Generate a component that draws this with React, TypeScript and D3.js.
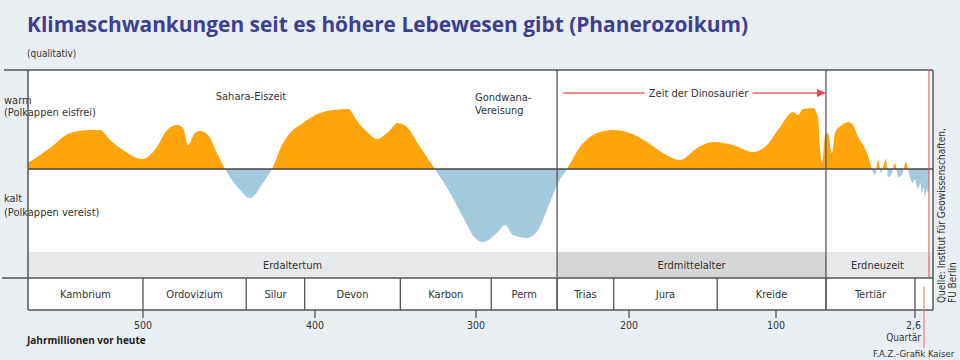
import React from "react";
import * as d3 from "d3";

// ages in million years (Ma) and where the drawn axis puts them (the axis is slightly compressed toward today)
const axisAges = [570, 500, 400, 300, 200, 100, 2.6, 0];
const axisX = [28, 143, 315, 476, 629, 776, 915, 929];

const tickValues = [500, 400, 300, 200, 100, 2.6];
const tickLabels = ["500", "400", "300", "200", "100", "2,6"];

const periodNames = ["Kambrium", "Ordovizium", "Silur", "Devon", "Karbon", "Perm", "Trias", "Jura", "Kreide", "Tertiär", ""];
const periodBounds = [570, 500, 440, 406, 347, 290, 247, 210, 140, 65, 2.6, 0];

const eraNames = ["Erdaltertum", "Erdmittelalter", "Erdneuzeit"];
const eraBounds = [570, 247, 65, 0];

// qualitative climate: + warm (ice-free poles), - cold (glaciated poles)
const climateAge = [
  570, 556.6, 544.4, 532.3, 526.2, 520.1, 512.2, 500.6, 491.9, 486, 480.2, 476.7, 473.8, 469.8, 466.9, 462.2, 457,
  452.3, 443.6, 437.8, 430.2, 425, 418.6, 412.8, 408.7, 396.9, 388.8, 379.5, 373.3, 367.7, 361.5, 355.3, 348.4,
  342.9, 334.8, 325.5, 316.1, 308.1, 300.6, 295.4, 286.3, 281, 275.8, 266.7, 259.5, 252.9, 246.4, 240.5, 232,
  220.9, 210.5, 199.3, 187.8, 176.9, 165.3, 153.7, 142.9, 129.3, 115.6, 106.1, 97.2, 88.1, 84.6, 81.1, 74.1, 70.6,
  69.2, 67.8, 65.7, 63.6, 60.8, 58.7, 53.7, 49.5, 46, 42.5, 39, 36.2, 32.7, 30.6, 28.5, 26.4, 25, 22.9, 21.5, 18.7,
  16.6, 14.5, 11.7, 8.9, 7.5, 4, 3, 2.04, 1.6, 1.3, 1.0, 0.74, 0.4, 0.18, 0,
];
const climateValue = [
  0.06, 0.21, 0.36, 0.39, 0.39, 0.29, 0.19, 0.1, 0.22, 0.39, 0.44, 0.41, 0.24, 0.36, 0.38, 0.34, 0.16,
  0, -0.21, -0.29, -0.14, 0, 0.26, 0.39, 0.44, 0.56, 0.59, 0.6, 0.47, 0.37, 0.3, 0.36, 0.46,
  0.42, 0.22, 0, -0.24, -0.48, -0.69, -0.73, -0.64, -0.56, -0.66, -0.69, -0.61, -0.38, -0.14, 0, 0.22,
  0.36, 0.39, 0.36, 0.27, 0.16, 0.09, 0.21, 0.27, 0.24, 0.17, 0.24, 0.42, 0.57, 0.54, 0.6, 0.61, 0.52,
  0.22, 0.06, 0.32, 0.36, 0.16, 0.36, 0.44, 0.47, 0.44, 0.32, 0.24, 0.16, 0, -0.06, 0.09, -0.04, 0.02, 0.1, -0.08, -0.04,
  0.06, -0.08, -0.06, 0.07, -0.01, -0.14, -0.1, -0.2, -0.14, -0.24, -0.18, -0.28, -0.2, -0.25, -0.18,
];

const condensed = "'Liberation Sans Narrow', 'DejaVu Sans Condensed', 'Roboto', sans-serif";
const lineColor = "#555";

export default function App() {
  const width = 960;
  const height = 360;
  const left = 28;
  const right = 933;
  const top = 70;
  const bandTop = 252;
  const periodTop = 278;
  const periodBottom = 310;

  const x = d3.scaleLinear().domain(axisAges).range(axisX);
  const y = d3.scaleLinear().domain([-1, 1]).range([269, 69]);
  const y0 = y(0);

  const points: [number, number][] = climateAge.map((a, i) => [a, climateValue[i]]);
  const area = d3
    .area<[number, number]>()
    .x((d) => x(d[0]))
    .y0(y0)
    .y1((d) => y(d[1]))
    .curve(d3.curveMonotoneX);
  const areaPath = area(points) || "";

  const dinoStart = x(247);
  const dinoEnd = x(65);
  const dinoMid = (dinoStart + dinoEnd) / 2 + 7;

  return (
    <svg
      width={width}
      height={height}
      style={{ position: "absolute", left: 0, top: 0, display: "block" }}
    >
      <rect width={width} height={height} fill="#e9eef2" />
      <defs>
        <clipPath id="warm">
          <rect x={left} y={top} width={right - left} height={y0 - top} />
        </clipPath>
        <clipPath id="cold">
          <rect x={left} y={y0} width={right - left} height={bandTop - y0} />
        </clipPath>
      </defs>

      {/* title */}
      <text
        x={27}
        y={32}
        fill="#3e3f8e"
        fontFamily="'Open Sans', sans-serif"
        fontWeight="bold"
        fontSize={21}
        textLength={721}
        lengthAdjust="spacingAndGlyphs"
      >
        Klimaschwankungen seit es höhere Lebewesen gibt (Phanerozoikum)
      </text>
      <text x={27} y={57} fontFamily={condensed} fontSize={10} fill="#333">
        (qualitativ)
      </text>

      {/* plot area */}
      <rect x={left} y={top} width={right - left} height={bandTop - top} fill="#fff" />

      {/* side labels */}
      <g fontFamily={condensed} fontSize={11} fill="#333">
        <text x={4} y={104}>warm</text>
        <text x={4} y={116}>(Polkappen eisfrei)</text>
        <text x={4} y={202}>kalt</text>
        <text x={4} y={216}>(Polkappen vereist)</text>
      </g>

      {/* climate curve */}
      <path d={areaPath} fill="#ffa40a" clipPath="url(#warm)" />
      <path d={areaPath} fill="#a3c9dc" clipPath="url(#cold)" />

      {/* era band */}
      {eraNames.map((name, i) => {
        const x0 = x(eraBounds[i]);
        const x1 = x(eraBounds[i + 1]);
        return (
          <g key={name}>
            <rect x={x0} y={bandTop} width={x1 - x0} height={periodTop - bandTop} fill={i === 1 ? "#d5d6d8" : "#e7e8e9"} />
            <text
              x={(x0 + x1) / 2}
              y={269}
              textAnchor="middle"
              fontFamily={condensed}
              fontSize={11}
              fill="#333"
            >
              {name}
            </text>
          </g>
        );
      })}

      {/* periods row */}
      <rect x={left} y={periodTop} width={right - left} height={periodBottom - periodTop} fill="#fff" />
      {periodNames.map((name, i) => {
        const x0 = x(periodBounds[i]);
        const x1 = x(periodBounds[i + 1]);
        return (
          <g key={i}>
            {i > 0 && <line x1={x0} x2={x0} y1={periodTop} y2={periodBottom} stroke={lineColor} strokeWidth={1.3} />}
            <text
              x={(x0 + x1) / 2}
              y={298}
              textAnchor="middle"
              fontFamily={condensed}
              fontSize={11}
              fill="#333"
            >
              {name}
            </text>
          </g>
        );
      })}

      {/* frame lines */}
      <line x1={4} x2={right} y1={top} y2={top} stroke={lineColor} strokeWidth={1.5} />
      <line x1={2} x2={right} y1={periodTop} y2={periodTop} stroke={lineColor} strokeWidth={1.3} />
      <line x1={left} x2={right} y1={periodBottom} y2={periodBottom} stroke={lineColor} strokeWidth={1.3} />
      <line x1={left} x2={left} y1={top} y2={periodBottom} stroke={lineColor} strokeWidth={1.5} />
      <line x1={right} x2={right} y1={top} y2={periodBottom} stroke={lineColor} strokeWidth={1.5} />
      <line x1={left} x2={right} y1={y0} y2={y0} stroke="#444" strokeWidth={1.5} />
      {[247, 65].map((a) => (
        <line key={a} x1={x(a)} x2={x(a)} y1={top} y2={periodBottom} stroke={lineColor} strokeWidth={1.3} />
      ))}
      <line x1={x(0)} x2={x(0)} y1={top} y2={periodTop} stroke="#e8464a" strokeWidth={1} />
      <line x1={x(0) - 5} x2={x(0) - 5} y1={287} y2={348} stroke="#f07a7c" strokeWidth={1.2} />

      {/* axis ticks */}
      {tickValues.map((t, i) => (
        <g key={t} transform={`translate(${x(t)},0)`}>
          <line y1={periodBottom} y2={periodBottom + 8} stroke={lineColor} strokeWidth={1.3} />
          <text
            y={329}
            x={i === tickValues.length - 1 ? 6 : 0}
            textAnchor={i === tickValues.length - 1 ? "end" : "middle"}
            fontFamily={condensed}
            fontSize={10.5}
            fill="#333"
          >
            {tickLabels[i]}
          </text>
        </g>
      ))}
      <text x={x(2.6) + 6} y={341} textAnchor="end" fontFamily={condensed} fontSize={10} fill="#333">
        Quartär
      </text>
      <text x={27} y={344} fontFamily="'Open Sans', sans-serif" fontWeight="bold" fontSize={10} fill="#222">
        Jahrmillionen vor heute
      </text>
      <text x={873} y={357} fontFamily={condensed} fontSize={9.5} fill="#333">
        F.A.Z.-Grafik Kaiser
      </text>

      {/* annotations */}
      <g fontFamily={condensed} fontSize={11} fill="#333">
        <text x={251} y={100} textAnchor="middle">Sahara-Eiszeit</text>
        <text x={475} y={101}>Gondwana-</text>
        <text x={475} y={114}>Vereisung</text>
      </g>
      <line x1={dinoStart + 6} x2={dinoEnd - 6} y1={93} y2={93} stroke="#f08a8c" strokeWidth={2} />
      <rect x={dinoMid - 54} y={85} width={108} height={16} fill="#fff" />
      <text x={dinoMid} y={97} textAnchor="middle" fontFamily={condensed} fontSize={11} fill="#333">
        Zeit der Dinosaurier
      </text>
      <path
        d={`M${dinoEnd},93 L${dinoEnd - 9},89 L${dinoEnd - 9},97 Z`}
        fill="#e8464a"
      />

      {/* source */}
      <g fontFamily={condensed} fontSize={10} fill="#333">
        <text transform="translate(945,303) rotate(-90)">Quelle: Institut für Geowissenschaften,</text>
        <text transform="translate(956,303) rotate(-90)">FU Berlin</text>
      </g>
    </svg>
  );
}
